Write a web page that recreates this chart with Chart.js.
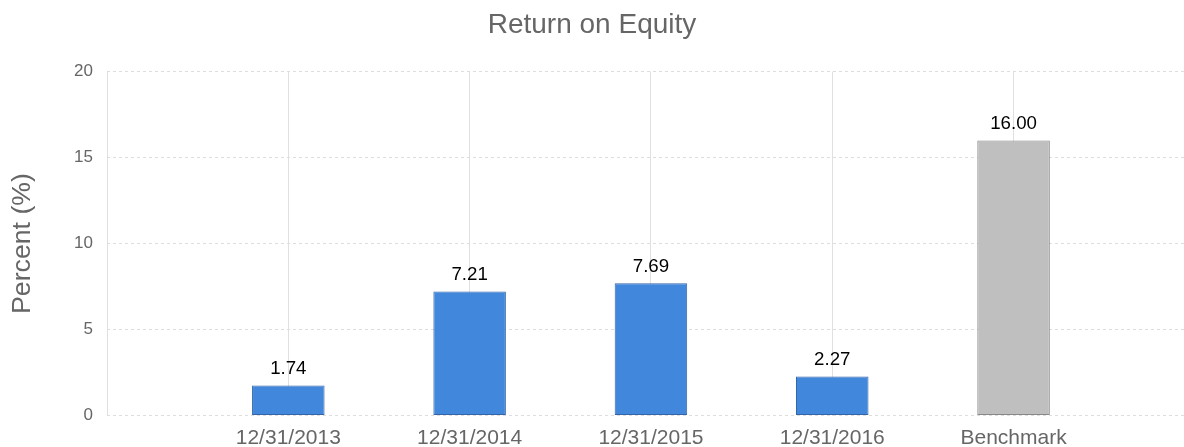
<!DOCTYPE html>
<html>
<head>
<meta charset="utf-8">
<script src="https://cdn.jsdelivr.net/npm/chart.js@4.4.0/dist/chart.umd.min.js"></script>
<style>
html,body{margin:0;padding:0;background:#fff;}
canvas{display:block;}
</style>
</head>
<body>
<canvas id="c" width="1184" height="447"></canvas>
<script>
const categories = ["12/31/2013", "12/31/2014", "12/31/2015", "12/31/2016", "Benchmark"];
const values = [1.74, 7.21, 7.69, 2.27, 16.00];
const yTicks = [0, 5, 10, 15, 20];
const barColors = ["#4187DB", "#4187DB", "#4187DB", "#4187DB", "#BFBFBF"];
const barBorders = ["#3465A8", "#3465A8", "#3465A8", "#3465A8", "#888888"];

const FONT = "'Liberation Sans', Arial, sans-serif";
const points = categories.map((c, i) => ({x: i + 1, y: values[i]}));

const valueLabels = {
  id: 'valueLabels',
  afterDatasetsDraw(chart) {
    const ctx = chart.ctx;
    const meta = chart.getDatasetMeta(0);
    ctx.save();
    ctx.font = "18.7px " + FONT;
    ctx.fillStyle = "#000";
    ctx.textAlign = "center";
    ctx.textBaseline = "alphabetic";
    meta.data.forEach((bar, i) => {
      ctx.fillText(values[i].toFixed(2), bar.x, bar.y - 11.5);
    });
    ctx.restore();
  }
};

new Chart(document.getElementById('c'), {
  type: 'bar',
  data: {
    datasets: [{
      data: points,
      backgroundColor: barColors,
      borderColor: barBorders,
      borderWidth: 1,
      borderSkipped: false,
      categoryPercentage: 0.8,
      barPercentage: 0.5
    }]
  },
  options: {
    responsive: false,
    animation: false,
    layout: {padding: 0},
    plugins: {
      legend: {display: false},
      tooltip: {enabled: false},
      title: {
        display: true,
        text: "Return on Equity",
        color: "#666",
        font: {family: FONT, size: 28, weight: 'normal'},
        padding: {top: 8, bottom: 30}
      }
    },
    scales: {
      x: {
        type: 'linear',
        min: 0,
        max: 5.94,
        offset: false,
        afterFit(scale) { scale.height = 31.5; },
        ticks: {
          stepSize: 1,
          includeBounds: false,
          padding: 10,
          color: "#666",
          font: {family: FONT, size: 21},
          callback: (v) => (v >= 1 && v <= categories.length) ? categories[v - 1] : ''
        },
        grid: {color: "#e0e0e0", drawTicks: false, offset: false},
        border: {display: false}
      },
      y: {
        min: 0,
        max: 20,
        afterFit(scale) { scale.width = 107; },
        afterBuildTicks(scale) { scale.ticks = yTicks.map(v => ({value: v})); },
        ticks: {
          padding: 14,
          color: "#666",
          font: {family: FONT, size: 17}
        },
        grid: {color: "#dddddd", drawTicks: false},
        border: {display: false, dash: [3, 3]},
        title: {
          display: true,
          text: "Percent (%)",
          color: "#666",
          font: {family: FONT, size: 26.7},
          padding: {top: 7, bottom: 0}
        }
      }
    }
  },
  plugins: [valueLabels]
});
</script>
</body>
</html>
